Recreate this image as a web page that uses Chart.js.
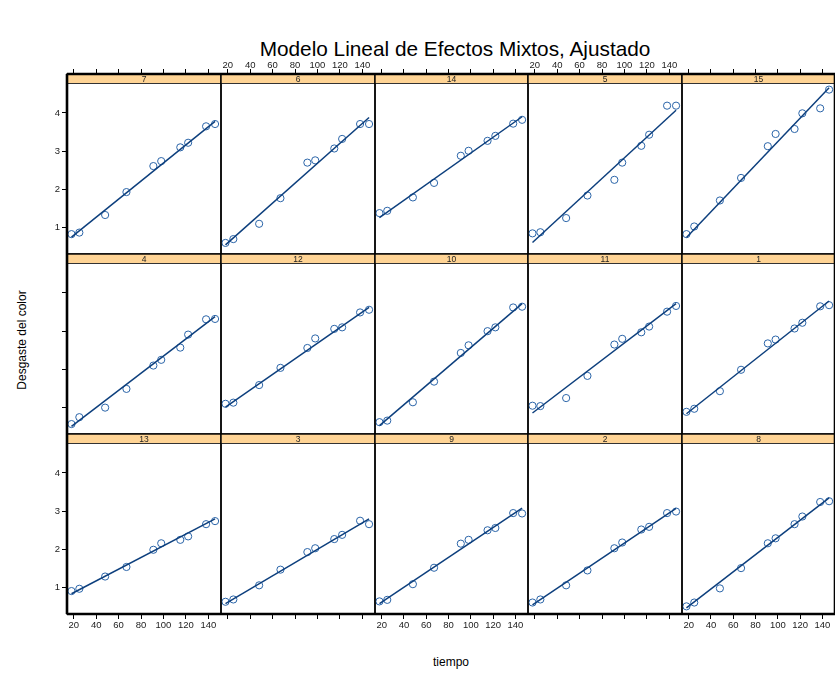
<!DOCTYPE html>
<html>
<head>
<meta charset="utf-8">
<script src="https://cdn.jsdelivr.net/npm/chart.js@4"></script>
<style>
  html, body { margin: 0; padding: 0; background: #fff; overflow: hidden; }
  body { width: 835px; height: 677px; position: relative; font-family: "Liberation Sans", Arial, sans-serif; }
  canvas { position: absolute; }
  .txt { position: absolute; color: #000; white-space: nowrap; }
  #title { left: 155px; width: 600px; top: 37px; text-align: center; font-size: 20.8px; }
  #xlab { left: 351px; width: 200px; top: 655px; text-align: center; font-size: 12px; }
  #ylab { left: -78px; width: 200px; top: 333px; text-align: center; font-size: 12px; transform: rotate(-90deg); }
</style>
</head>
<body>
<div id="title" class="txt">Modelo Lineal de Efectos Mixtos, Ajustado</div>
<div id="xlab" class="txt">tiempo</div>
<div id="ylab" class="txt">Desgaste del color</div>
<script>
// panels in display order, row by row from the top
const panelLabels = ['7', '6', '14', '5', '15', '4', '12', '10', '11', '1', '13', '3', '9', '2', '8'];

// measurement times (same for every panel)
const tiempo = [18, 25, 48, 67, 91, 98, 115, 122, 138, 146];

// observed colour wear for each panel
const desgaste = [
  [0.83, 0.87, 1.33, 1.93, 2.61, 2.74, 3.10, 3.22, 3.65, 3.71],
  [0.60, 0.70, 1.10, 1.77, 2.70, 2.76, 3.07, 3.32, 3.71, 3.71],
  [1.38, 1.44, 1.79, 2.17, 2.88, 3.01, 3.27, 3.40, 3.72, 3.82],
  [0.85, 0.88, 1.25, 1.84, 2.25, 2.70, 3.14, 3.43, 4.19, 4.19],
  [0.83, 1.03, 1.71, 2.30, 3.13, 3.45, 3.58, 3.99, 4.12, 4.61],
  [0.57, 0.75, 1.00, 1.49, 2.10, 2.25, 2.57, 2.91, 3.31, 3.32],
  [1.10, 1.13, 1.59, 2.04, 2.56, 2.81, 3.06, 3.10, 3.49, 3.56],
  [0.62, 0.66, 1.14, 1.68, 2.43, 2.63, 3.00, 3.10, 3.62, 3.64],
  [1.05, 1.04, 1.25, 1.83, 2.65, 2.80, 2.97, 3.12, 3.51, 3.66],
  [0.89, 0.97, 1.43, 1.99, 2.68, 2.78, 3.07, 3.22, 3.65, 3.68],
  [0.91, 0.97, 1.29, 1.54, 1.99, 2.16, 2.25, 2.34, 2.66, 2.74],
  [0.63, 0.69, 1.06, 1.47, 1.93, 2.03, 2.27, 2.38, 2.75, 2.66],
  [0.64, 0.68, 1.09, 1.52, 2.15, 2.25, 2.50, 2.56, 2.95, 2.94],
  [0.61, 0.69, 1.06, 1.45, 2.03, 2.18, 2.52, 2.59, 2.95, 2.99],
  [0.51, 0.61, 0.98, 1.51, 2.16, 2.29, 2.66, 2.86, 3.24, 3.26]
];

// fitted values at the first and last time of each panel
const ajusteInicio = [0.75, 0.55, 1.26, 0.61, 0.74, 0.51, 1.01, 0.53, 0.86, 0.84, 0.84, 0.58, 0.58, 0.55, 0.47];
const ajusteFin    = [3.78, 3.88, 3.90, 4.07, 4.66, 3.38, 3.62, 3.72, 3.72, 3.79, 2.80, 2.80, 3.08, 3.07, 3.35];

const xTicks = [20, 40, 60, 80, 100, 120, 140];
const yTicks = [1, 2, 3, 4];

// layout
const nCols = 5, nRows = 3;
const gridLeft = 67.3, gridTop = 73.5, colW = 153.6, cellH = 180, stripH = 9.5;
const ML = 45, MT = 22, MR = 8, MB = 26;
const xMin = 14, xMax = 151.3;
const yMin = 0.31, yMaxPanel = 4.77;
const yMaxChart = yMin + (yMaxPanel - yMin) * cellH / (cellH - stripH);

const tickFont = { family: '"Liberation Sans", Arial, sans-serif', size: 9.5 };

const panelFrame = {
  id: 'panelFrame',
  beforeDatasetsDraw(chart, args, opts) {
    const a = chart.chartArea;
    const ctx = chart.ctx;
    ctx.save();
    ctx.fillStyle = '#FFD495';
    ctx.fillRect(a.left, a.top, a.right - a.left, stripH);
    ctx.strokeStyle = '#333';
    ctx.lineWidth = 1;
    ctx.beginPath();
    ctx.moveTo(a.left, a.top + stripH);
    ctx.lineTo(a.right, a.top + stripH);
    ctx.stroke();
    ctx.fillStyle = '#222';
    ctx.font = '8.5px "Liberation Sans", Arial, sans-serif';
    ctx.textAlign = 'center';
    ctx.textBaseline = 'middle';
    ctx.fillText(opts.label, (a.left + a.right) / 2, a.top + stripH / 2 + 0.5);
    ctx.restore();
  },
  afterDraw(chart, args, opts) {
    const a = chart.chartArea;
    const ctx = chart.ctx;
    ctx.save();
    ctx.strokeStyle = '#000';
    ctx.lineWidth = 1.4;
    ctx.strokeRect(a.left, a.top, a.right - a.left, a.bottom - a.top);
    ctx.lineWidth = 2.6;
    ctx.beginPath();
    if (opts.edges.left) { ctx.moveTo(a.left, a.top); ctx.lineTo(a.left, a.bottom); }
    if (opts.edges.right) { ctx.moveTo(a.right, a.top); ctx.lineTo(a.right, a.bottom); }
    if (opts.edges.top) { ctx.moveTo(a.left, a.top); ctx.lineTo(a.right, a.top); }
    if (opts.edges.bottom) { ctx.moveTo(a.left, a.bottom); ctx.lineTo(a.right, a.bottom); }
    ctx.stroke();
    ctx.restore();
  }
};

function fixedTicks(values) {
  return function(scale) {
    scale.ticks = values.map(v => ({ value: v }));
  };
}

function makePanel(i) {
  const r = Math.floor(i / nCols);
  const c = i % nCols;
  const L = Math.round(gridLeft + c * colW);
  const R = Math.round(gridLeft + (c + 1) * colW);
  const T = Math.round(gridTop + r * cellH);
  const B = Math.round(gridTop + (r + 1) * cellH);

  const canvas = document.createElement('canvas');
  canvas.width = ML + (R - L) + MR;
  canvas.height = MT + (B - T) + MB;
  canvas.style.left = (L - ML) + 'px';
  canvas.style.top = (T - MT) + 'px';
  canvas.style.width = canvas.width + 'px';
  canvas.style.height = canvas.height + 'px';
  document.body.appendChild(canvas);

  const isTop = r === 0, isBottom = r === nRows - 1, isLeft = c === 0;

  const points = tiempo.map((t, k) => ({ x: t, y: desgaste[i][k] }));
  const fitLine = [
    { x: tiempo[0], y: ajusteInicio[i] },
    { x: tiempo[tiempo.length - 1], y: ajusteFin[i] }
  ];

  new Chart(canvas, {
    type: 'scatter',
    data: {
      datasets: [
        {
          data: fitLine,
          showLine: true,
          borderColor: '#0D3F7D',
          borderWidth: 1.5,
          pointRadius: 0
        },
        {
          data: points,
          pointStyle: 'circle',
          pointRadius: 3.6,
          pointBorderWidth: 1,
          borderColor: '#2A64A8',
          backgroundColor: 'rgba(0,0,0,0)'
        }
      ]
    },
    options: {
      responsive: false,
      animation: false,
      events: [],
      layout: { padding: { left: 0, top: 0, right: MR, bottom: 0 } },
      plugins: {
        legend: { display: false },
        tooltip: { enabled: false },
        panelFrame: {
          label: panelLabels[i],
          edges: { left: isLeft, right: c === nCols - 1, top: isTop, bottom: isBottom }
        }
      },
      scales: {
        x: {
          type: 'linear',
          position: 'bottom',
          min: xMin,
          max: xMax,
          afterBuildTicks: fixedTicks(xTicks),
          afterFit: s => { s.height = MB; },
          border: { display: false },
          grid: { display: isBottom, drawOnChartArea: false, drawTicks: true, tickLength: 5, color: '#000', lineWidth: 1 },
          ticks: { display: isBottom && c % 2 === 0, font: tickFont, color: '#222', padding: 1, maxRotation: 0, autoSkip: false }
        },
        x2: {
          type: 'linear',
          position: 'top',
          min: xMin,
          max: xMax,
          afterBuildTicks: fixedTicks(xTicks),
          afterFit: s => { s.height = MT; },
          border: { display: false },
          grid: { display: isTop, drawOnChartArea: false, drawTicks: true, tickLength: 5, color: '#000', lineWidth: 1 },
          ticks: { display: isTop && c % 2 === 1, font: tickFont, color: '#222', padding: -2.5, maxRotation: 0, autoSkip: false }
        },
        y: {
          type: 'linear',
          position: 'left',
          min: yMin,
          max: yMaxChart,
          afterBuildTicks: fixedTicks(yTicks),
          afterFit: s => { s.width = ML; },
          border: { display: false },
          grid: { display: isLeft, drawOnChartArea: false, drawTicks: true, tickLength: 5, color: '#000', lineWidth: 1 },
          ticks: { display: isLeft && r !== 1, font: tickFont, color: '#222', padding: 2 }
        }
      }
    },
    plugins: [panelFrame]
  });
}

for (let i = 0; i < nCols * nRows; i++) makePanel(i);
</script>
</body>
</html>
